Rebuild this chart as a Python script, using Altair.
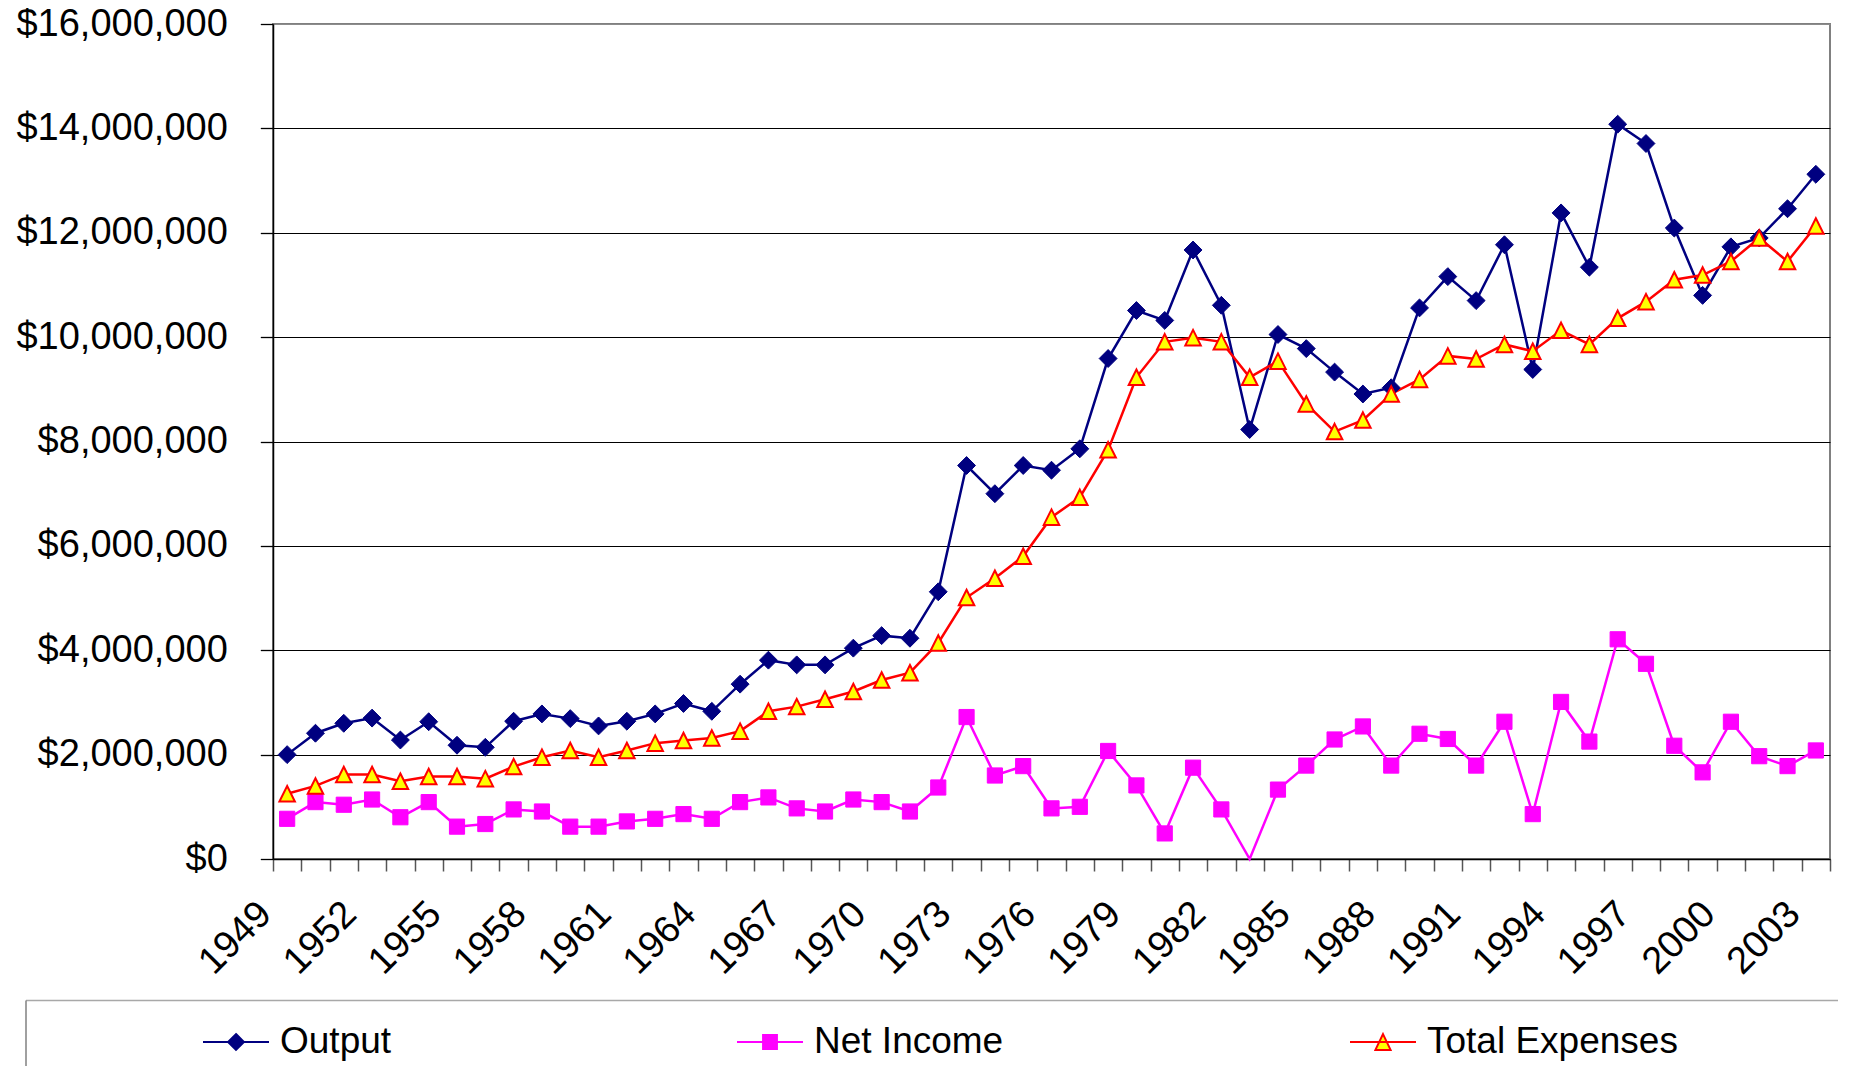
import altair as alt
import pandas as pd

# ---------------- data ----------------
years = list(range(1949, 2004))
series_names = ["Output", "Net Income", "Total Expenses"]

output = [
    2000000, 2410000, 2600000, 2700000, 2280000, 2630000, 2180000, 2140000, 2640000, 2780000,
    2690000, 2550000, 2640000, 2780000, 2980000, 2830000, 3350000, 3810000, 3720000, 3720000,
    4040000, 4280000, 4230000, 5120000, 7540000, 7000000, 7540000, 7450000, 7860000, 9590000,
    10510000, 10320000, 11670000, 10610000, 8230000, 10050000, 9780000, 9330000, 8910000, 9030000,
    10560000, 11160000, 10700000, 11770000, 9380000, 12380000, 11340000, 14080000, 13710000, 12090000,
    10800000, 11730000, 11900000, 12460000, 13120000,
]
net_income = [
    770000, 1090000, 1040000, 1140000, 800000, 1090000, 620000, 670000, 950000, 910000,
    620000, 620000, 720000, 770000, 860000, 770000, 1090000, 1180000, 970000, 910000,
    1140000, 1090000, 910000, 1370000, 2720000, 1600000, 1780000, 970000, 1000000, 2070000,
    1410000, 490000, 1750000, 950000, -1000000, 1330000, 1790000, 2290000, 2540000, 1790000,
    2400000, 2300000, 1790000, 2630000, 860000, 3010000, 2250000, 4210000, 3740000, 2170000,
    1660000, 2630000, 1970000, 1780000, 2080000,
]
total_expenses = [
    1250000, 1400000, 1620000, 1620000, 1490000, 1580000, 1580000, 1540000, 1770000, 1950000,
    2080000, 1950000, 2080000, 2220000, 2270000, 2320000, 2450000, 2830000, 2920000, 3060000,
    3210000, 3430000, 3570000, 4140000, 5010000, 5380000, 5800000, 6550000, 6930000, 7840000,
    9230000, 9910000, 9990000, 9910000, 9230000, 9540000, 8720000, 8190000, 8410000, 8910000,
    9190000, 9640000, 9580000, 9860000, 9730000, 10130000, 9860000, 10360000, 10680000, 11100000,
    11190000, 11450000, 11900000, 11450000, 12130000,
]
y_ticks = [0, 2000000, 4000000, 6000000, 8000000, 10000000, 12000000, 14000000, 16000000]

# ---------------- styles ----------------
line_colors = ["#000080", "#FF00FF", "#FF0000"]
marker_fills = ["#000080", "#FF00FF", "#FFFF00"]
marker_strokes = ["#000080", "#FF00FF", "#FF0000"]
marker_shapes = ["diamond", "square", "M0,-1L1,1L-1,1Z"]
marker_sizes = [320, 230, 240]
marker_stroke_widths = [1, 1, 2]
legend_shapes = [
    "M-1,0L1,0M0,-0.24L0.24,0L0,0.24L-0.24,0Z",
    "M-1,0L1,0M-0.21,-0.21L0.21,-0.21L0.21,0.21L-0.21,0.21Z",
    "M-1,0L1,0M0,-0.24L0.23,0.24L-0.23,0.24Z",
]
legend_x = [-71, 463, 1076]

FONT = "Liberation Sans"
PLOT_W, PLOT_H = 1557, 835
LEGEND_Y = 984

rows = []
for name, vals in zip(series_names, [output, net_income, total_expenses]):
    for yr, v in zip(years, vals):
        rows.append({"year": yr, "series": name, "value": v})
df = pd.DataFrame(rows)

x_enc = alt.X(
    "year:O",
    bandPosition=0.5,
    scale=alt.Scale(type="band", paddingInner=0, paddingOuter=0),
    axis=alt.Axis(
        title=None,
        tickBand="extent",
        labelAngle=315,
        labelAlign="right",
        labelBaseline="middle",
        labelExpr="(datum.value - 1949) % 3 == 0 ? datum.label : ''",
        labelOverlap=False,
        labelFontSize=38,
        labelFont=FONT,
        labelColor="black",
        labelLimit=0,
        labelPadding=37,
        labelOffset=-22,
        tickSize=12,
        tickColor="#555555",
        tickWidth=1.5,
        domainColor="black",
        domainWidth=1.5,
        grid=False,
    ),
)

y_enc = alt.Y(
    "value:Q",
    scale=alt.Scale(domain=[0, 16000000], nice=False, zero=True, clamp=True),
    axis=alt.Axis(
        title=None,
        values=y_ticks,
        format="$,.0f",
        labelFontSize=38,
        labelFont=FONT,
        labelColor="black",
        labelLimit=0,
        labelPadding=33,
        tickSize=12.7,
        tickColor="black",
        tickWidth=1.3,
        domainColor="black",
        domainWidth=1.5,
        gridColor={"condition": {"test": "datum.value >= 16000000", "value": "#8c8c8c"}, "value": "black"},
        gridWidth=1,
    ),
)


def legend_for(i):
    return alt.Legend(
        title=None,
        orient="none",
        legendX=legend_x[i],
        legendY=LEGEND_Y,
        direction="horizontal",
        labelFontSize=37,
        labelFont=FONT,
        labelColor="black",
        labelLimit=0,
        symbolType=legend_shapes[i],
        symbolSize=4356,
        symbolStrokeWidth=2,
        symbolFillColor=marker_fills[i],
        symbolStrokeColor=marker_strokes[i],
        symbolOpacity=1,
        labelOffset=10,
        padding=0,
    )


line_layers = []
for name, col in zip(series_names, line_colors):
    line_layers.append(
        alt.Chart(df)
        .transform_filter(f"datum.series == '{name}'")
        .mark_line(strokeWidth=2.5, color=col)
        .encode(x=x_enc, y=y_enc)
    )

# one legend entry per series, each carried by its own marker layer
legend_channels = [
    lambda i: {"fill": alt.Fill("series:N", scale=alt.Scale(domain=[series_names[i]], range=[marker_fills[i]]), legend=legend_for(i))},
    lambda i: {"stroke": alt.Stroke("series:N", scale=alt.Scale(domain=[series_names[i]], range=[marker_strokes[i]]), legend=legend_for(i))},
    lambda i: {"color": alt.Color("series:N", scale=alt.Scale(domain=[series_names[i]], range=[marker_fills[i]]), legend=legend_for(i))},
]

point_layers = []
for i, name in enumerate(series_names):
    point_layers.append(
        alt.Chart(df)
        .transform_filter(f"datum.series == '{name}' && datum.value >= 0")
        .mark_point(shape=marker_shapes[i], size=marker_sizes[i], filled=True,
                    fill=marker_fills[i], stroke=marker_strokes[i],
                    strokeWidth=marker_stroke_widths[i], opacity=1)
        .encode(x=x_enc, y=y_enc, **legend_channels[i](i))
    )

frame_df = pd.DataFrame({"k": [0]})
legend_top = alt.Chart(frame_df).mark_rule(color="#a8a8a8", strokeWidth=1.5).encode(
    x=alt.value(-247), x2=alt.value(1600), y=alt.value(976.5)
)
legend_left = alt.Chart(frame_df).mark_rule(color="#808080", strokeWidth=1.5).encode(
    x=alt.value(-247), y=alt.value(976.5), y2=alt.value(1080)
)

chart = (
    alt.layer(*line_layers, *point_layers, legend_top, legend_left)
    .properties(
        width=PLOT_W,
        height=PLOT_H,
        autosize=alt.AutoSizeParams(type="none"),
        padding={"left": 265, "top": 16, "right": 8, "bottom": 207},
    )
    .configure(font=FONT)
    .configure_view(stroke="#808080", strokeWidth=2)
)

chart.save("out.html", embed_options={"renderer": "svg", "actions": False})
